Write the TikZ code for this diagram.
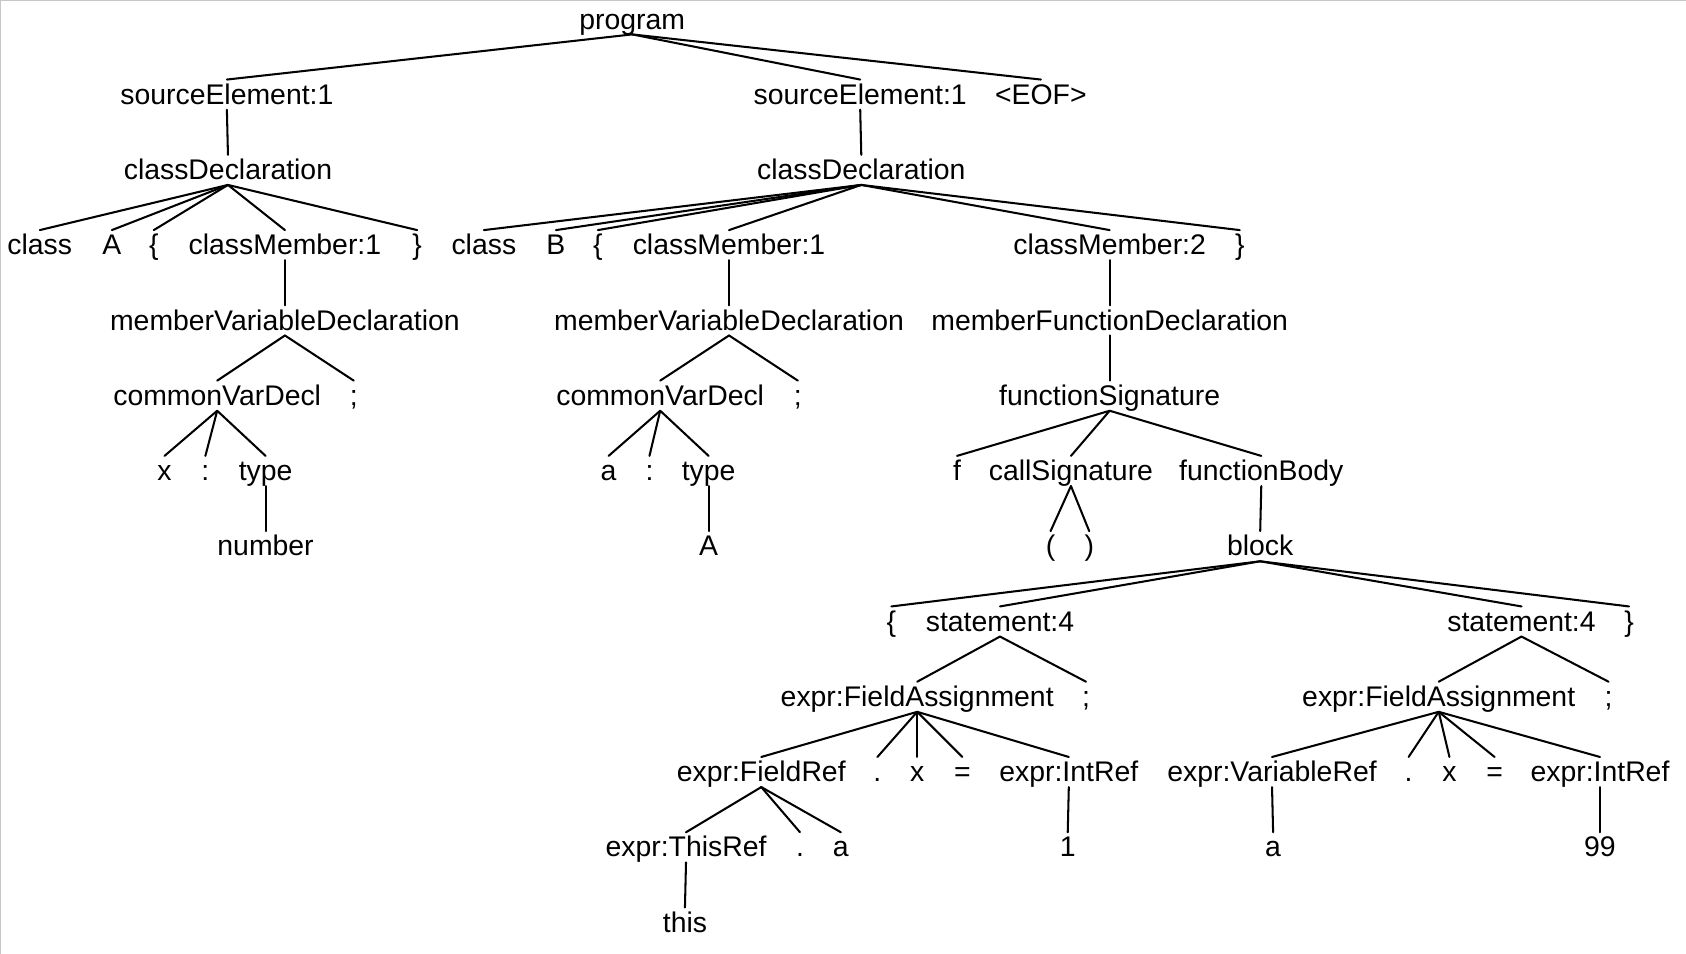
\documentclass[tikz,border=0pt]{standalone}
\usepackage{fontspec}
\setmainfont{Liberation Sans}
\begin{document}
\begin{tikzpicture}[x=0.5pt,y=-0.5pt,
  t/.style={anchor=base, inner sep=0pt, font=\fontsize{13.2}{15}\selectfont},
  edge/.style={line width=0.95pt, line cap=round},
  frame/.style={draw=black!22, line width=1.2pt}]
\useasboundingbox (0,0) rectangle (1568,887);
\draw[frame] (0,887) -- (0,0) -- (1568,0);
% row 0
\node[t] (prog) at (588,27) {program};
% row 1
\node[t] (se1) at (211,97) {sourceElement:1};
\node[t] (se2) at (800,97) {sourceElement:1};
\node[t] (eof) at (968,97) {<EOF>};
% row 2
\node[t] (cd1) at (212,167) {classDeclaration};
\node[t] (cd2) at (801,167) {classDeclaration};
% row 3
\node[t] (k1) at (37,237) {class};
\node[t] (nA) at (104,237) {A};
\node[t] (lb1) at (143,237) {\{};
\node[t] (cm1) at (265,237) {classMember:1};
\node[t] (rb1) at (388,237) {\}};
\node[t] (k2) at (450,237) {class};
\node[t] (nB) at (517,237) {B};
\node[t] (lb2) at (556,237) {\{};
\node[t] (cm2) at (678,237) {classMember:1};
\node[t] (cm3) at (1032,237) {classMember:2};
\node[t] (rb2) at (1153,237) {\}};
% row 4
\node[t] (mvd1) at (265,307) {memberVariableDeclaration};
\node[t] (mvd2) at (678,307) {memberVariableDeclaration};
\node[t] (mfd) at (1032,307) {memberFunctionDeclaration};
% row 5
\node[t] (cvd1) at (202,377) {commonVarDecl};
\node[t] (sm1) at (329,377) {;};
\node[t] (cvd2) at (614,377) {commonVarDecl};
\node[t] (sm2) at (742,377) {;};
\node[t] (fsig) at (1032,377) {functionSignature};
% row 6
\node[t] (x1) at (153,447) {x};
\node[t] (co1) at (191,447) {:};
\node[t] (ty1) at (247,447) {type};
\node[t] (a2) at (566,447) {a};
\node[t] (co2) at (604,447) {:};
\node[t] (ty2) at (659,447) {type};
\node[t] (ff) at (890,447) {f};
\node[t] (csig) at (996,447) {callSignature};
\node[t] (fbody) at (1173,447) {functionBody};
% row 7
\node[t] (num) at (247,517) {number};
\node[t] (tA) at (659,517) {A};
\node[t] (lp) at (977,517) {(};
\node[t] (rp) at (1013,517) {)};
\node[t] (blk) at (1172,517) {block};
% row 8
\node[t] (blb) at (829,587) {\{};
\node[t] (st1) at (930,587) {statement:4};
\node[t] (st2) at (1415,587) {statement:4};
\node[t] (brb) at (1515,587) {\}};
% row 9
\node[t] (fa1) at (853,657) {expr:FieldAssignment};
\node[t] (fs1) at (1010,657) {;};
\node[t] (fa2) at (1338,657) {expr:FieldAssignment};
\node[t] (fs2) at (1496,657) {;};
% row 10
\node[t] (fref) at (708,727) {expr:FieldRef};
\node[t] (d1) at (816,727) {.};
\node[t] (xx1) at (853,727) {x};
\node[t] (eq1) at (895,727) {=};
\node[t] (ir1) at (994,727) {expr:IntRef};
\node[t] (vref) at (1183,727) {expr:VariableRef};
\node[t] (d2) at (1310,727) {.};
\node[t] (xx2) at (1348,727) {x};
\node[t] (eq2) at (1390,727) {=};
\node[t] (ir2) at (1488,727) {expr:IntRef};
% row 11
\node[t] (tref) at (638,797) {expr:ThisRef};
\node[t] (d3) at (744,797) {.};
\node[t] (a3) at (782,797) {a};
\node[t] (one) at (993,797) {1};
\node[t] (a4) at (1184,797) {a};
\node[t] (n99) at (1488,797) {99};
% row 12
\node[t] (this) at (637,867) {this};
% edges
\foreach \p/\c in {prog/se1, prog/se2, prog/eof,
  se1/cd1, se2/cd2,
  cd1/k1, cd1/nA, cd1/lb1, cd1/cm1, cd1/rb1,
  cd2/k2, cd2/nB, cd2/lb2, cd2/cm2, cd2/cm3, cd2/rb2,
  cm1/mvd1, cm2/mvd2, cm3/mfd,
  mvd1/cvd1, mvd1/sm1, mvd2/cvd2, mvd2/sm2, mfd/fsig,
  cvd1/x1, cvd1/co1, cvd1/ty1, cvd2/a2, cvd2/co2, cvd2/ty2,
  fsig/ff, fsig/csig, fsig/fbody,
  ty1/num, ty2/tA, csig/lp, csig/rp, fbody/blk,
  blk/blb, blk/st1, blk/st2, blk/brb,
  st1/fa1, st1/fs1, st2/fa2, st2/fs2,
  fa1/fref, fa1/d1, fa1/xx1, fa1/eq1, fa1/ir1,
  fa2/vref, fa2/d2, fa2/xx2, fa2/eq2, fa2/ir2,
  fref/tref, fref/d3, fref/a3, ir1/one, vref/a4, ir2/n99,
  tref/this}
  \draw[edge] ([yshift=-2.5pt]\p.base) -- ([yshift=11.5pt]\c.base);
\end{tikzpicture}
\end{document}
